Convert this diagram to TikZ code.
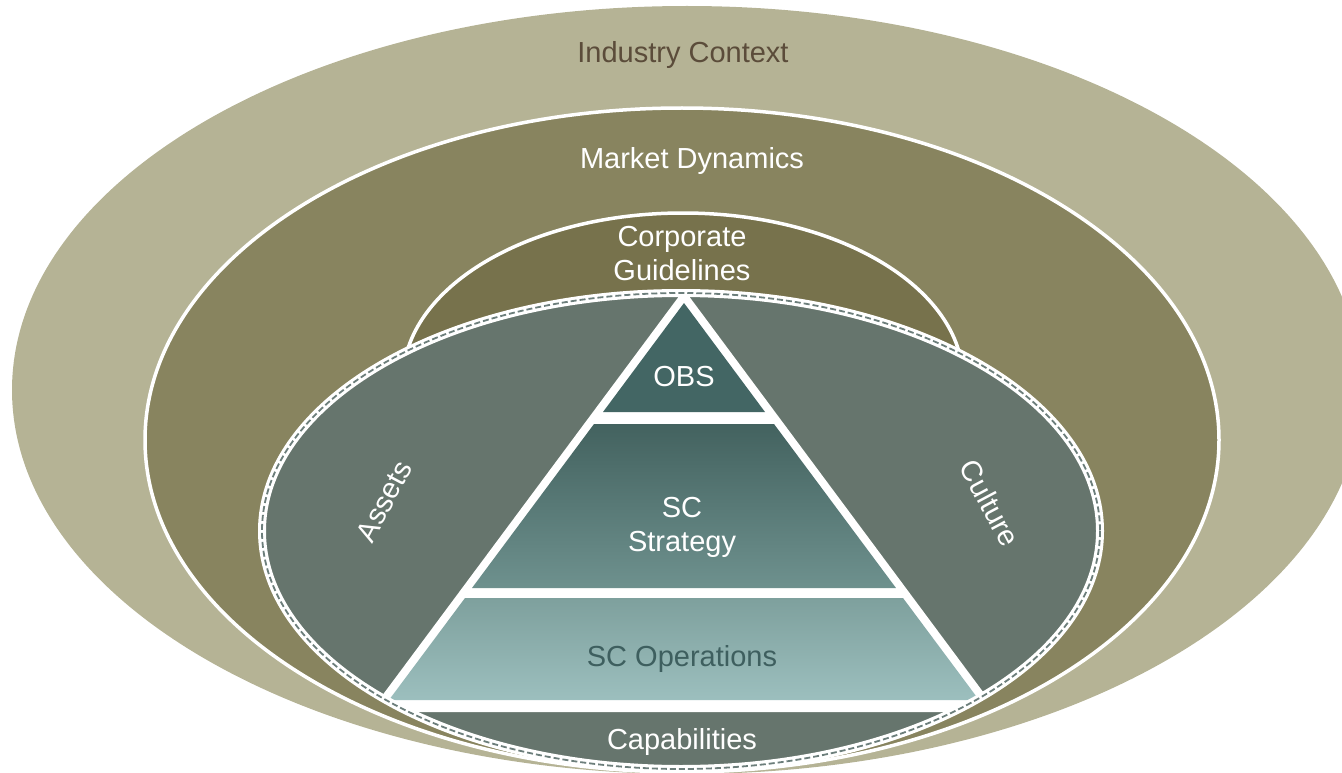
\documentclass[tikz,border=0pt]{standalone}
\usepackage{fontspec}
\setmainfont{Liberation Sans}
\definecolor{industry}{HTML}{B5B395}
\definecolor{market}{HTML}{88845F}
\definecolor{corp}{HTML}{77724C}
\definecolor{innerc}{HTML}{66756D}
\definecolor{obsc}{HTML}{436664}
\definecolor{strattop}{HTML}{43625F}
\definecolor{stratbot}{HTML}{6E918E}
\definecolor{opstop}{HTML}{7EA09D}
\definecolor{opsbot}{HTML}{9CBFBE}
\definecolor{indtext}{HTML}{5B4C3A}
\definecolor{opstext}{HTML}{3E5F5F}
\definecolor{dashc}{HTML}{6C7E7B}
\begin{document}
\begin{tikzpicture}[x=1pt,y=-1pt,
  lbl/.style={font=\fontsize{29}{34}\selectfont, text=white, align=center, inner sep=0pt},
  ring/.style={draw=white, line width=3.5}]
\useasboundingbox (0,0) rectangle (1342,773);
\clip (0,0) rectangle (1342,773);
% Industry context
\fill[industry] (687,390) ellipse [x radius=675, y radius=384];
% Market dynamics
\filldraw[ring, fill=market] (682,440) ellipse [x radius=537, y radius=332];
% Corporate guidelines
\filldraw[ring, fill=corp] (683,380) ellipse [x radius=280, y radius=167];
% Inner ellipse
\fill[innerc] (681,531) ellipse [x radius=419, y radius=238];
\begin{scope}
  \clip (681,531) ellipse [x radius=419, y radius=238];
  \fill[white] (684,289.5) -- (998,712) -- (370,712) -- cycle;
  \fill[obsc] (684,303) -- (765,412) -- (603,412) -- cycle;
  \shade[top color=strattop, bottom color=stratbot] (594,424) -- (774,424) -- (896,588) -- (472,588) -- cycle;
  \shade[top color=opstop, bottom color=opsbot] (465,598) -- (903,598) -- (979,700) -- (389,700) -- cycle;
\end{scope}
\draw[white, line width=8] (681,531) ellipse [x radius=419, y radius=238];
\draw[dashc, line width=1.8, dash pattern=on 6pt off 3pt] (681,531) ellipse [x radius=419, y radius=238];
% Labels
\node[lbl, text=indtext] (ind) at (683,55) {Industry Context};
\node[lbl] (mkt) at (692,161) {Market Dynamics};
\node[lbl] (corpl) at (682,254) {Corporate\\Guidelines};
\node[lbl] (obsl) at (684,377) {OBS};
\node[lbl] (strat) at (682,527) {SC\\Strategy};
\node[lbl, text=opstext] (ops) at (682,659) {SC Operations};
\node[lbl] (cap) at (682,742) {Capabilities};
\node[lbl, rotate=62] (assets) at (384,501) {Assets};
\node[lbl, rotate=-62] (culture) at (990,503) {Culture};
\end{tikzpicture}
\end{document}
